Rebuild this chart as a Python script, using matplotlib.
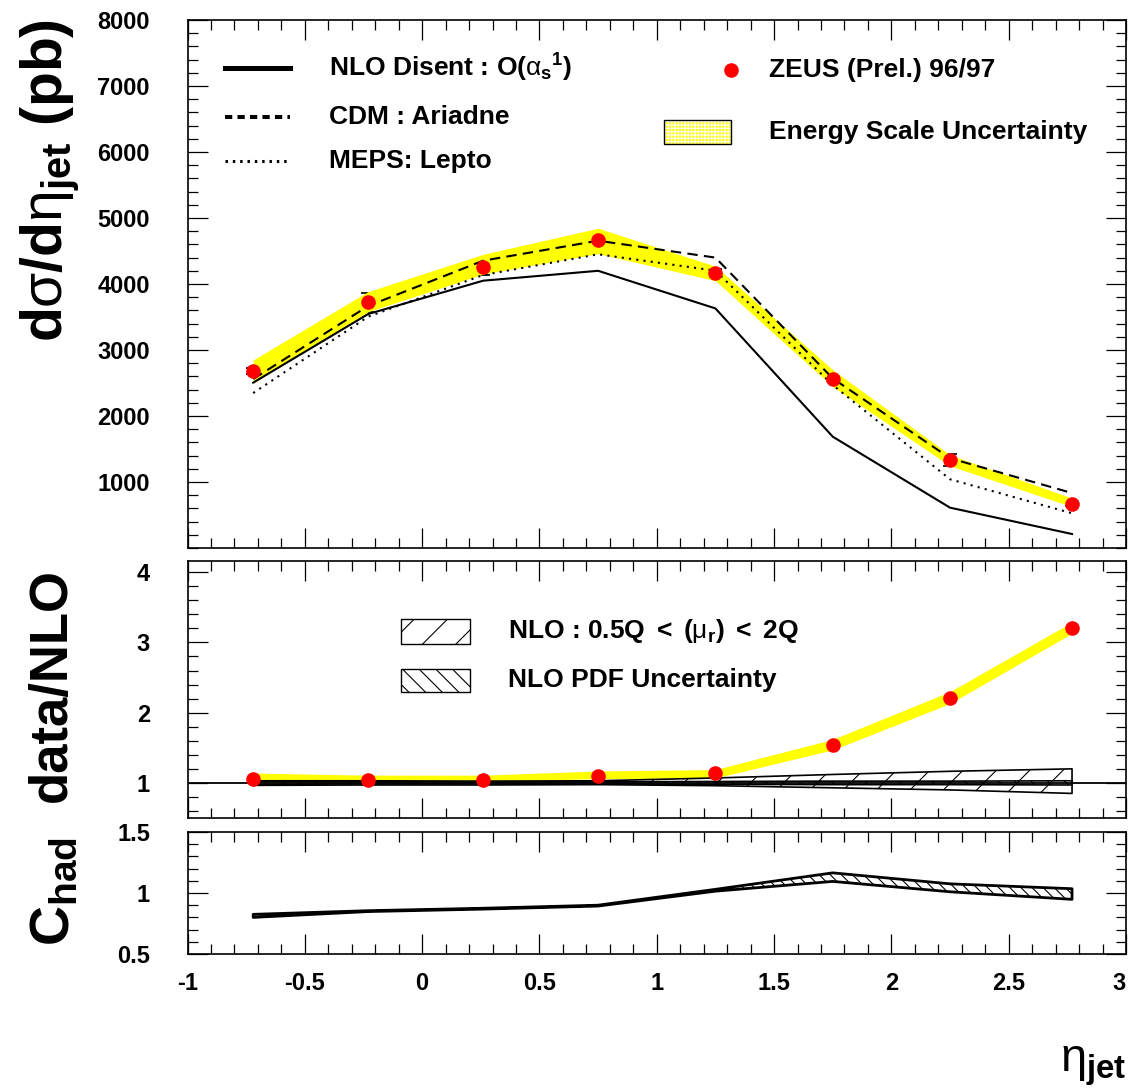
import matplotlib
matplotlib.use('Agg')
import matplotlib.pyplot as plt
from matplotlib.patches import Rectangle
from matplotlib.ticker import MultipleLocator

plt.rcParams['font.family'] = 'Liberation Sans'
plt.rcParams['font.weight'] = 'bold'
plt.rcParams['mathtext.fontset'] = 'custom'
plt.rcParams['mathtext.it'] = 'Liberation Sans:weight=normal'
plt.rcParams['mathtext.rm'] = 'Liberation Sans:weight=bold'
plt.rcParams['mathtext.bf'] = 'Liberation Sans:weight=bold'
plt.rcParams['hatch.linewidth'] = 0.8

# mean eta_jet in each bin
eta = [-0.72, -0.23, 0.26, 0.75, 1.25, 1.75, 2.25, 2.77]

# cross section (pb)
zeus = [2680, 3720, 4260, 4660, 4170, 2565, 1335, 665]
zeus_stat = [40, 140, 120, 60, 60, 40, 95, 30]
escale_lo = [2500, 3580, 4150, 4460, 4050, 2445, 1245, 625]
escale_hi = [2850, 3885, 4450, 4845, 4270, 2700, 1410, 755]
nlo = [2505, 3545, 4050, 4200, 3630, 1687, 611, 212]
cdm = [2560, 3667, 4353, 4656, 4400, 2570, 1360, 833]
meps = [2348, 3505, 4136, 4450, 4202, 2470, 1041, 526]

# data / NLO
ratio = [1.06, 1.045, 1.045, 1.105, 1.14, 1.545, 2.215, 3.21]
ratio_es_lo = [1.0, 1.02, 1.02, 1.06, 1.07, 1.47, 2.13, 3.13]
ratio_es_hi = [1.14, 1.11, 1.11, 1.17, 1.19, 1.62, 2.30, 3.29]
scale_lo = [0.965, 0.97, 0.97, 0.975, 0.96, 0.93, 0.90, 0.85]
scale_hi = [1.03, 1.03, 1.025, 1.03, 1.07, 1.12, 1.165, 1.20]
pdf_lo = [0.98, 0.985, 0.985, 0.985, 0.98, 0.975, 0.975, 0.97]
pdf_hi = [1.02, 1.015, 1.015, 1.015, 1.02, 1.025, 1.025, 1.03]

# hadronisation correction
chad_lo = [0.80, 0.848, 0.868, 0.893, 1.015, 1.095, 1.01, 0.948]
chad_hi = [0.825, 0.855, 0.875, 0.90, 1.03, 1.165, 1.075, 1.035]

xticks = [-1, -0.5, 0, 0.5, 1, 1.5, 2, 2.5, 3]
xticklabels = ['-1', '-0.5', '0', '0.5', '1', '1.5', '2', '2.5', '3']

W, H = 1128, 1091
fig = plt.figure(figsize=(W / 100, H / 100), dpi=100)
left = 187.5 / W
width = (1126 - 187.5) / W
ax1 = fig.add_axes([left, 1 - 548 / H, width, 528 / H])
ax2 = fig.add_axes([left, 1 - 818 / H, width, 257 / H])
ax3 = fig.add_axes([left, 1 - 954 / H, width, 122 / H])


def style(ax, yticks, yticklabels, yminor, ylim):
    ax.set_xlim(-1, 3)
    ax.set_ylim(*ylim)
    ax.set_xticks(xticks)
    ax.xaxis.set_minor_locator(MultipleLocator(0.1))
    ax.set_yticks(yticks)
    ax.set_yticklabels(yticklabels)
    ax.yaxis.set_minor_locator(MultipleLocator(yminor))
    ax.tick_params(which='both', direction='in', top=True, right=True,
                   width=0.9, labelsize=17)
    ax.tick_params(which='major', length=14.4)
    ax.tick_params(which='minor', length=7.2)
    ax.tick_params(axis='y', pad=27)
    ax.tick_params(axis='x', pad=13)
    for s in ax.spines.values():
        s.set_linewidth(1.2)


# --- cross section panel
style(ax1, [1000, 2000, 3000, 4000, 5000, 6000, 7000, 8000],
      ['1000', '2000', '3000', '4000', '5000', '6000', '7000', '8000'],
      200, (0, 8000))
ax1.set_xticklabels([])
ax1.errorbar(eta, zeus, yerr=zeus_stat, fmt='none', ecolor='k',
             elinewidth=1.2, capsize=4.7, capthick=1.2, zorder=0.5)
ax1.fill_between(eta, escale_lo, escale_hi, color='yellow', lw=0, zorder=1)
ax1.plot(eta, nlo, color='k', lw=1.5, zorder=2)
ax1.plot(eta, cdm, color='k', lw=1.5, ls=(0, (5, 3)), zorder=2)
ax1.plot(eta, meps, color='k', lw=1.5, ls=(0, (1, 2.5)), zorder=2)
ax1.plot(eta, zeus, 'o', color='red', ms=10.5, mew=0, zorder=4)

# legend (left)
tr = ax1.transAxes
ax1.plot([0.040, 0.109], [0.909, 0.909], transform=tr, color='k', lw=3.6)
ax1.plot([0.040, 0.109], [0.816, 0.816], transform=tr, color='k', lw=2.9,
         ls=(0, (1.8, 1.3)))
ax1.plot([0.040, 0.109], [0.733, 0.733], transform=tr, color='k', lw=2.2,
         ls=(0, (0.8, 1.6)))
ax1.text(0.151, 0.909, r'NLO Disent : O($\alpha_{\mathbf{s}}{}^{\mathbf{1}}$)',
         transform=tr, va='center', fontsize=19)
ax1.text(0.151, 0.816, 'CDM : Ariadne', transform=tr, va='center', fontsize=19)
ax1.text(0.151, 0.733, 'MEPS: Lepto', transform=tr, va='center', fontsize=19)

# legend (right)
ax1.plot([0.579], [0.905], 'o', color='red', ms=10.5, mew=0, transform=tr)
ax1.add_patch(Rectangle((0.508, 0.765), 0.071, 0.046, transform=tr,
                        facecolor='yellow', edgecolor='white', lw=0,
                        hatch='+++++'))
ax1.add_patch(Rectangle((0.508, 0.765), 0.071, 0.046, transform=tr,
                        fill=False, edgecolor='k', lw=1.0))
ax1.text(0.620, 0.905, 'ZEUS (Prel.) 96/97', transform=tr, va='center',
         fontsize=19)
ax1.text(0.620, 0.788, 'Energy Scale Uncertainty', transform=tr,
         va='center', fontsize=19)

# --- ratio panel
style(ax2, [1, 2, 3, 4], ['1', '2', '3', '4'], 0.2, (0.5, 4.16))
ax2.set_xticklabels([])
ax2.fill_between(eta, ratio_es_lo, ratio_es_hi, color='yellow', lw=0,
                 zorder=1)
ax2.fill_between(eta, scale_lo, scale_hi, facecolor='none', edgecolor='k',
                 hatch='/', lw=1.2, zorder=2)
ax2.fill_between(eta, pdf_lo, pdf_hi, facecolor='none', edgecolor='k',
                 hatch='\\\\', lw=1.2, zorder=2)
ax2.axhline(1, color='k', lw=1.3, zorder=3)
ax2.plot(eta, ratio, 'o', color='red', ms=10.5, mew=0, zorder=4)

tr2 = ax2.transAxes
ax2.add_patch(Rectangle((0.2275, 0.677), 0.074, 0.099, transform=tr2,
                        facecolor='white', edgecolor='k', lw=1.0, hatch='/'))
ax2.add_patch(Rectangle((0.2275, 0.490), 0.074, 0.091, transform=tr2,
                        facecolor='white', edgecolor='k', lw=1.0,
                        hatch='\\\\'))
ax2.text(0.342, 0.728, r'NLO : 0.5Q $<$ ($\mu_{\mathbf{r}}$) $<$ 2Q',
         transform=tr2, va='center', fontsize=19)
ax2.text(0.342, 0.537, 'NLO PDF Uncertainty', transform=tr2, va='center',
         fontsize=19)

# --- hadronisation correction panel
style(ax3, [0.5, 1, 1.5], ['0.5', '1', '1.5'], 0.1, (0.5, 1.5))
ax3.set_xticklabels(xticklabels)
ax3.get_xticklabels()[-1].set_horizontalalignment('right')
ax3.fill_between(eta, chad_lo, chad_hi, facecolor='white', edgecolor='k',
                 hatch='\\\\\\', lw=2.0)

# axis titles
fig.text(50 / W, 1 - 19 / H, r'd$\sigma$/d$\eta_{\mathbf{jet}}$ (pb)',
         rotation=90, ha='center', va='top', fontsize=41)
fig.text(52 / W, 1 - 685 / H, 'data/NLO', rotation=90, ha='center',
         va='center', fontsize=38)
fig.text(55 / W, 1 - 891 / H, r'C$_{\mathbf{had}}$', rotation=90,
         ha='center', va='center', fontsize=40)
fig.text(1126 / W, 1 - 1088 / H, r'$\eta_{\mathbf{jet}}$', ha='right',
         va='bottom', fontsize=34)

fig.savefig('out.png', dpi=100)
